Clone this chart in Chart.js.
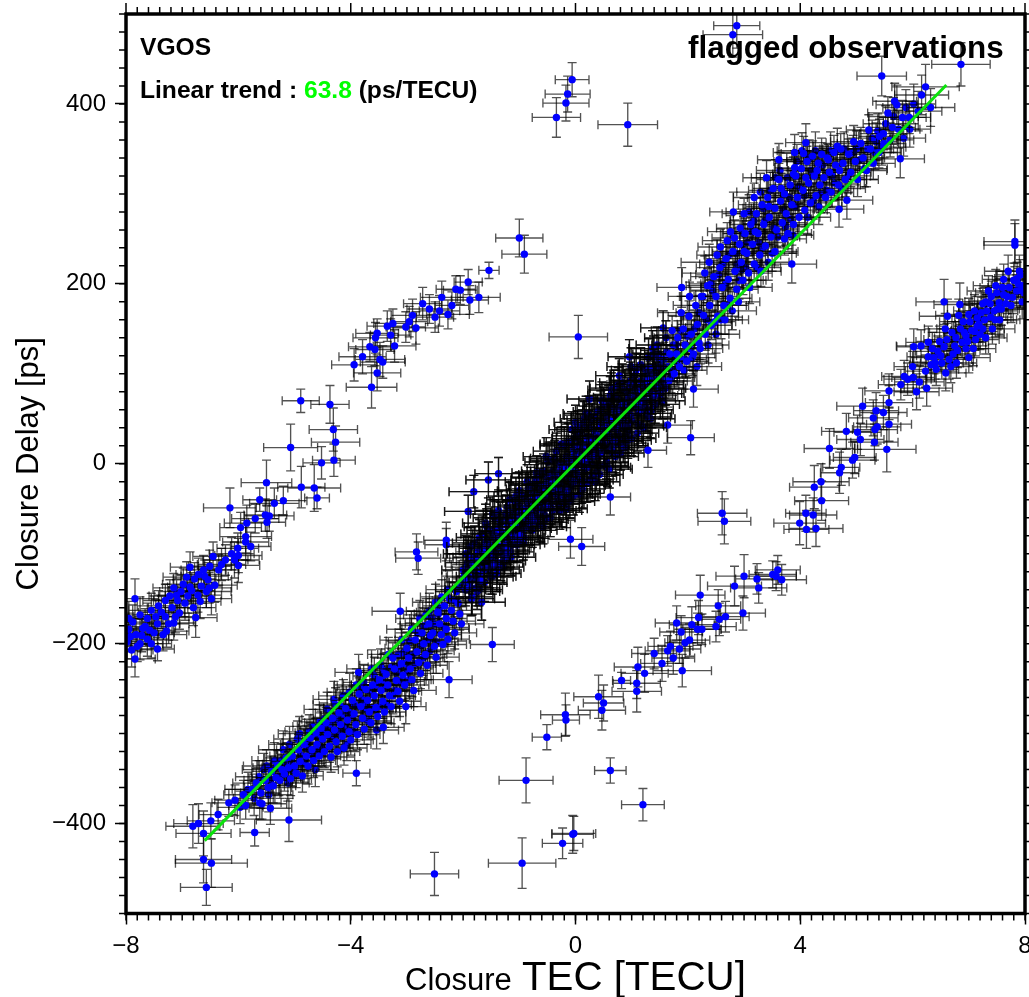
<!DOCTYPE html>
<html>
<head>
<meta charset="utf-8">
<title>Closure delay vs closure TEC</title>
<script src="https://cdn.jsdelivr.net/npm/chart.js@4"></script>
<style>
  html, body { margin: 0; padding: 0; background: #fff; overflow: hidden; }
  #wrap { width: 1029px; height: 997px; }
</style>
</head>
<body>
<div id="wrap"><canvas id="myChart" width="1029" height="997"></canvas></div>
<script>
// rows are [closure TEC, closure delay, TEC error, delay error]
var trendTec = [-6.6, 6.6];
var trendDelay = [-419, 421];
var xMajorTicks = [-8, -4, 0, 4, 8];
var yMajorTicks = [-400, -200, 0, 200, 400];

var strayPoints = [
  [2.87,487,.41,25],[2.80,477,.53,25],[5.45,431,.44,22],[6.86,444,.52,24],[-0.06,427,.3,19],[-0.14,411,.4,20],
  [-0.17,401,.41,20],[-0.34,385,.43,22],[0.93,377,.53,24],[0.05,141,.52,24],[2.05,29,.42,19],[1.29,15,.33,19],
  [0.62,-37,.36,20],[-0.09,-84,.4,21],[0.11,-92,.41,21],[2.61,-55,.44,24],[2.65,-64,.47,25],[-1.48,-201,.39,19],
  [-2.25,-240,.41,20],[-2.51,-456,.43,24],[-3.90,-344,.24,14],[-5.10,-396,.58,24],[-5.71,-410,.26,15],
  [-0.88,-352,.48,25],[0.62,-341,.28,14],[1.20,-379,.38,18],[-0.03,-411,.39,19],[-0.05,-412,.37,21],
  [-0.23,-422,.36,17],[-0.95,-444,.6,28],[-6.62,-440,.5,26],[-6.48,-444,.64,27],[-6.57,-471,.46,20],
  [-6.62,-411,.49,25],[-6.81,-403,.48,24],[-6.71,-400,.44,22],[-6.49,-397,.42,20],[-6.36,-390,.34,17],
  [-1.0,251,.42,21],[-0.91,233,.4,21]
];

var upperBranch = [
  [-1.54,215,.18,9],[-1.91,202,.25,14],[-2.13,194,.35,15],[-2.05,193,.3,16],[-2.38,185,.38,18],[-1.72,185,.38,17],
  [-1.88,182,.33,16],[-2.2,176,.3,15],[-2.42,170,.36,17],[-2.6,172,.4,16],[-2.5,163,.33,17],[-2.27,166,.38,16],
  [-2.72,178,.34,18],[-2.9,165,.38,18],[-2.84,151,.4,18],[-3.02,152,.35,17],[-2.96,158,.33,17],[-3.25,156,.34,16],
  [-3.35,153,.36,17],[-3.53,145,.38,16],[-3.29,143,.36,18],[-3.56,140,.4,17],[-3.66,130,.38,16],[-3.57,127,.34,18],
  [-3.22,131,.38,18],[-3.79,119,.42,19],[-3.48,116,.44,19],[-3.43,113,.4,18],[-3.94,110,.4,18],[-3.53,101,.42,20],
  [-3.63,85,.45,23],[-4.37,66,.34,21],[-4.89,70,.33,13],[-4.31,38,.43,24],[-4.27,24,.43,18],[-5.07,18,.48,26],
  [-4.30,4,.38,18],[-4.52,1,.33,18],[-5.50,-21,.45,25],[-4.88,-26,.42,23],[-4.65,-27,.47,26],[-4.60,-38,.22,12],
  [-5.62,-40,.3,13],[-5.36,-44,.44,17],[-5.20,-41,.42,16],[-6.15,-49,.47,22],[-5.52,-57,.38,18],[-5.45,-58,.44,17],
  [-5.70,-61,.42,16],[-5.85,-66,.4,20],[-5.49,-65,.33,18],[-5.96,-71,.37,17],[-5.87,-81,.46,18],[-5.87,-87,.41,20],
  [-5.78,-92,.36,16],[-6.01,-94,.37,17],[-6.12,-100,.4,18],[-6.00,-102,.42,19],[-6.07,-107,.44,20],[-6.23,-107,.4,17],
  [-6.00,-113,.38,19],[-6.45,-103,.36,16],[-6.51,-114,.38,18],[-6.86,-115,.35,17],[-6.71,-123,.4,18],[-6.54,-129,.42,19],
  [-6.86,-137,.4,19],[-6.98,-134,.37,18],[-6.57,-142,.44,18],[-7.10,-146,.4,17],[-7.84,-150,.42,22],[-7.22,-147,.37,18],
  [-6.35,-118,.36,17],[-6.62,-118,.4,16],[-6.78,-128,.38,18],[-6.42,-135,.4,19],[-6.92,-126,.42,17],[-7.02,-142,.38,18],
  [-6.72,-146,.42,19],[-6.48,-150,.36,18],[-7.15,-138,.37,16],[-7.3,-152,.4,18],[-6.95,-155,.38,19],[-7.18,-160,.42,18],
  [-7.42,-158,.38,17],[-6.8,-160,.4,20],[-7.05,-166,.36,18],[-7.55,-163,.4,19],[-7.3,-170,.42,18],[-6.76,-171,.38,22],
  [-7.62,-172,.36,17],[-7.44,-178,.4,18],[-7.15,-177,.38,19],[-7.75,-168,.4,20],[-7.7,-183,.42,18],[-7.5,-188,.36,17],
  [-7.28,-186,.4,18],[-7.88,-176,.38,19],[-7.82,-190,.4,18],[-7.62,-195,.38,19],[-7.95,-184,.4,18],[-7.44,-206,.3,13],
  [-7.90,-207,.38,19],[-7.84,-217,.36,20],[-7.75,-200,.4,18],[-7.98,-198,.42,19],[-7.55,-200,.36,16],[-7.92,-192,.38,17],
  [-7.37,-165,.41,18],[-6.66,-136,.37,19],[-7.08,-152,.43,17],[-7.66,-181,.38,20],[-6.9,-147,.4,19],[-7.24,-178,.36,18],
  [-6.6,-125,.42,18],[-7.47,-170,.39,19],[-7.8,-203,.37,17],[-6.83,-141,.41,20],[-7.12,-170,.38,18],[-7.58,-185,.4,17],
  [-6.3,-112,.43,18],[-7.95,-172,.36,19],[-6.52,-138,.4,17],[-7.34,-190,.42,18],[-6.68,-153,.37,19],[-7.72,-191,.39,18]
];

var rightBranch = [
  [7.82,247,.55,24],[7.82,243,.55,24],[7.70,214,.42,18],[7.86,206,.4,18],[7.62,205,.38,17],[7.92,193,.42,19],
  [6.56,180,.5,25],[6.84,177,.46,24],[6.62,164,.5,19],[7.54,179,.38,16],[7.39,163,.4,18],[7.30,180,.37,17],
  [7.15,153,.42,18],[6.02,130,.3,20],[6.15,131,.44,18],[6.28,135,.4,18],[6.56,130,.42,20],[6.77,140,.38,18],
  [6.28,119,.38,18],[6.65,116,.4,22],[6.00,108,.33,17],[6.33,110,.38,17],[6.42,105,.4,18],[6.23,103,.36,18],
  [6.59,101,.36,20],[5.85,97,.4,18],[5.91,94,.42,18],[6.01,96,.38,17],[6.12,91,.44,18],[5.79,88,.4,17],
  [6.25,84,.46,20],[6.07,80,.4,20],[5.58,81,.43,19],[5.58,68,.42,19],[5.11,64,.46,20],[5.35,59,.4,20],
  [5.48,57,.42,19],[5.30,51,.44,20],[5.58,44,.4,19],[5.37,41,.42,19],[5.33,38,.4,18],[4.82,36,.44,20],
  [5.02,35,.42,19],[5.07,27,.42,18],[5.32,24,.42,20],[5.54,16,.52,25],[4.52,17,.45,22],[4.97,7,.38,18],
  [4.93,4,.4,20],[4.73,-4,.33,20],[4.70,-10,.34,23],[4.37,-20,.5,20],[4.25,-26,.44,24],[4.38,-41,.48,22],
  [4.10,-55,.36,20],[4.23,-57,.42,19],[3.99,-66,.46,24],[4.11,-73,.4,21],[4.28,-72,.48,20],
  [6.7,146,.4,18],[6.85,150,.42,19],[6.95,142,.38,17],[7.02,158,.4,18],[7.1,170,.37,18],[6.88,135,.42,17],
  [6.72,122,.38,19],[6.95,128,.4,18],[7.12,138,.42,18],[7.25,150,.38,19],[7.22,168,.4,17],[7.38,178,.36,18],
  [7.45,170,.42,19],[7.5,190,.38,18],[7.62,188,.4,17],[7.72,196,.38,19],[7.78,185,.42,18],[7.66,178,.36,18],
  [7.85,192,.4,18],[7.92,210,.42,17],[7.95,180,.38,19],[6.45,125,.4,17],[6.38,118,.42,18],[6.52,112,.38,18],
  [6.78,112,.36,17],[6.8,126,.4,19],[6.48,136,.42,17],[7.0,118,.38,17],[7.08,128,.4,19],[7.3,140,.38,18],
  [7.42,150,.4,17],[7.55,160,.36,18],[7.15,162,.4,19],[7.35,192,.38,17],[7.58,172,.42,18],[7.96,198,.4,19],
  [7.0,166,.38,18],[6.9,158,.42,19],[7.25,178,.36,17],[7.48,198,.4,18],[7.8,204,.38,19],[7.98,190,.42,18],
  [6.61,138,.41,18],[6.92,146,.37,19],[7.2,144,.43,17],[6.35,128,.39,18],[7.47,160,.38,19],[6.75,131,.42,18],
  [7.05,148,.36,17],[7.68,186,.41,19],[7.32,170,.39,18],[6.5,120,.43,17],[6.98,136,.37,19],[7.6,196,.4,18],
  [7.88,200,.38,17],[7.18,155,.42,19],[6.68,108,.39,18],[7.4,186,.36,17],[6.82,165,.41,18],[7.75,176,.38,19],
  [6.4,112,.4,18],[7.1,147,.42,17],[7.52,172,.38,19],[7.28,160,.41,18],[6.58,150,.37,17],[7.9,214,.4,18]
];

var lowerBranch = [
  [3.60,-118,.4,16],[3.51,-123,.42,15],[3.57,-125,.36,16],[3.67,-129,.44,17],[3.00,-125,.5,24],[3.23,-128,.38,17],
  [2.83,-136,.48,22],[3.26,-138,.5,17],[2.22,-146,.44,22],[2.54,-158,.4,18],[2.98,-166,.4,19],[2.67,-170,.42,17],
  [2.56,-173,.38,18],[2.19,-171,.4,19],[1.80,-177,.38,19],[2.07,-179,.4,20],[2.50,-181,.36,17],[2.17,-184,.42,18],
  [2.25,-184,.34,17],[1.88,-187,.38,18],[2.03,-196,.36,18],[1.95,-199,.36,17],[1.69,-203,.4,17],[1.85,-206,.38,16],
  [1.64,-208,.4,17],[1.40,-211,.4,17],[1.74,-216,.38,18],[1.54,-222,.38,20],[1.11,-226,.42,22],[1.90,-230,.52,18],
  [1.23,-233,.42,21],[0.82,-241,.16,9],[1.09,-244,.42,17],[1.09,-253,.44,23],[0.41,-259,.44,24],[0.50,-266,.36,20],
  [0.47,-274,.42,22],[-0.18,-279,.44,24],[-0.17,-285,.24,17],[-0.51,-304,.26,14]
];

var mainLow = [
  [-6.17,-377,.3,15],[-6.06,-374,.36,17],[-5.91,-368,.35,16],[-5.87,-380,.3,15],[-5.75,-362,.36,17],[-5.62,-377,.38,18],
  [-5.58,-378,.44,17],[-5.43,-383,.38,18],[-5.68,-355,.42,16],[-5.6,-366,.36,17],[-5.52,-352,.38,18],[-5.47,-360,.42,20],
  [-5.41,-342,.35,17],[-5.38,-358,.4,19],[-5.33,-349,.44,18],[-5.3,-335,.37,16],[-5.26,-352,.41,20],[-5.22,-340,.36,17],
  [-5.18,-345,.4,19],[-5.15,-327,.38,16],[-5.11,-338,.43,18],[-5.07,-350,.37,19],[-5.04,-325,.4,17],[-5.0,-336,.42,18],
  [-4.97,-344,.36,16],[-4.93,-318,.39,17],[-4.9,-331,.41,19],[-4.86,-347,.37,18],[-4.83,-312,.42,17],[-4.79,-325,.38,16],
  [-4.76,-336,.4,20],[-4.72,-305,.36,17],[-4.69,-318,.43,18],[-4.66,-330,.39,19],[-4.62,-299,.37,16],[-4.6,-312,.41,18],
  [-4.56,-325,.38,17],[-4.53,-294,.4,19],[-4.5,-306,.36,16],[-4.47,-320,.42,18],[-4.44,-288,.38,17],[-4.41,-301,.4,19],
  [-4.38,-314,.36,18],[-4.35,-326,.42,17],[-4.32,-283,.39,16],[-4.29,-296,.41,18],[-4.26,-309,.37,19],[-4.24,-320,.4,17],
  [-4.21,-277,.42,17],[-4.18,-290,.38,18],[-4.15,-303,.36,16],[-4.12,-316,.41,19],[-4.09,-272,.39,17],[-4.06,-285,.43,18],
  [-4.03,-298,.37,18],[-4.0,-307,.4,17],[-3.97,-263,.38,16],[-3.94,-278,.42,18],[-3.91,-290,.36,19],[-3.88,-301,.4,17],
  [-3.85,-256,.41,18],[-3.82,-270,.38,16],[-3.79,-283,.4,18],[-3.76,-295,.36,17],[-3.73,-251,.42,19],[-3.7,-263,.39,17],
  [-3.67,-276,.37,16],[-3.64,-288,.41,18],[-3.61,-246,.38,17],[-3.58,-258,.42,19],[-3.55,-271,.36,18],[-3.52,-281,.4,16],
  [-3.49,-240,.39,17],[-3.46,-252,.37,18],[-3.42,-293,.37,18],[-3.43,-264,.41,19],[-3.4,-276,.38,17],[-3.37,-234,.4,16],
  [-3.34,-246,.42,18],[-3.31,-258,.36,17],[-3.28,-270,.4,19],[-3.25,-216,.38,17],[-3.22,-228,.41,16],[-3.19,-241,.37,18],
  [-3.16,-253,.42,19],[-3.13,-264,.38,17],[-3.12,-164,.5,20],[-3.1,-222,.36,16],[-3.07,-235,.4,18],[-3.04,-246,.43,17],
  [-3.02,-270,.36,19],[-3.0,-205,.39,18],[-2.97,-216,.37,17],[-2.94,-228,.41,16],[-2.91,-240,.38,19],[-2.88,-252,.4,18],
  [-2.83,-98,.38,20],[-2.8,-105,.4,18],[-2.85,-196,.36,17],[-2.82,-209,.42,18],[-2.79,-221,.38,16],[-2.76,-233,.4,17],
  [-2.73,-188,.37,19],[-2.7,-200,.41,17],[-2.67,-212,.38,18],[-2.64,-224,.36,16],[-2.61,-178,.42,17],[-2.58,-191,.39,18],
  [-2.54,-188,.4,19],[-2.51,-203,.37,17],[-2.48,-215,.41,18],[-2.45,-165,.38,16],[-2.42,-178,.4,18],[-2.39,-190,.36,17],
  [-2.36,-201,.42,19],[-2.33,-158,.39,18],[-2.3,-85,.4,20],[-2.3,-90,.38,18],[-2.3,-172,.37,17],[-2.3,-184,.41,17],
  [-2.27,-195,.38,16],[-2.24,-150,.42,18],[-2.21,-163,.36,17],[-2.18,-175,.4,19],[-2.15,-188,.39,18],[-2.12,-142,.37,16],
  [-2.09,-155,.41,17],[-2.06,-167,.38,18],[-2.03,-178,.4,19]
];

var mainLowExtra = [
  [-5.83,-362,.41,19],[-5.2,-318,.44,21],[-4.48,-284,.39,18],[-3.86,-232,.42,20],[-3.33,-212,.37,19],[-2.77,-172,.43,20],
  [-5.55,-340,.38,18],[-4.95,-306,.42,20],[-4.27,-268,.4,19],[-3.63,-228,.44,21],[-3.09,-196,.39,18],[-2.49,-154,.41,20],
  [-5.72,-372,.37,19],[-4.88,-324,.43,18],[-4.33,-304,.38,21],[-3.72,-273,.41,19],[-3.18,-232,.39,20],[-2.62,-196,.42,18],
  [-5.36,-330,.4,20],[-4.67,-292,.36,19],[-4.13,-258,.44,18],[-3.58,-236,.38,21],[-2.99,-230,.41,19],[-2.44,-167,.43,20],
  [-5.63,-348,.42,18],[-5.09,-312,.37,20],[-4.42,-273,.41,19],[-3.9,-246,.39,18],[-3.36,-268,.44,20],[-2.71,-216,.38,19],
  [-5.28,-348,.39,21],[-4.74,-298,.43,19],[-4.19,-269,.37,18],[-3.66,-252,.42,20],[-3.03,-222,.4,21],[-2.56,-172,.39,18],
  [-5.97,-382,.41,18],[-5.12,-355,.38,20],[-4.58,-318,.42,19],[-4.02,-254,.4,21],[-3.47,-224,.37,18],[-2.92,-184,.44,20],
  [-5.46,-368,.43,19],[-4.83,-333,.39,21],[-4.25,-285,.41,18],[-3.77,-243,.38,20],[-3.21,-252,.42,19],[-2.66,-168,.4,18],
  [-5.06,-330,.37,20],[-4.63,-340,.41,19],[-4.07,-312,.43,18],[-3.54,-296,.39,21],[-3.11,-242,.42,20],[-2.38,-148,.38,19],
  [-5.24,-330,.41,19],[-4.52,-316,.38,20],[-3.99,-281,.42,18],[-3.44,-241,.4,19],[-2.86,-222,.37,21],[-2.33,-182,.43,19],
  [-5.42,-351,.39,18],[-4.77,-316,.44,20],[-4.16,-280,.37,19],[-3.69,-286,.41,18],[-3.25,-258,.4,20],[-2.74,-202,.42,21],
  [-4.91,-300,.38,19],[-4.36,-290,.42,18],[-3.8,-262,.4,20],[-3.15,-212,.37,19],[-2.59,-208,.43,18],[-2.16,-152,.39,20],
  [-5.14,-334,.43,18],[-4.55,-287,.37,19],[-3.96,-298,.41,21],[-3.39,-250,.39,18],[-2.95,-197,.42,20],[-2.47,-198,.38,19],
  [-5.34,-338,.4,20],[-4.71,-324,.41,18],[-4.1,-293,.38,19],[-3.56,-246,.43,21],[-3.06,-210,.39,18],[-2.6,-164,.41,20],
  [-4.8,-310,.42,19],[-4.22,-298,.39,20],[-3.74,-268,.37,18],[-3.27,-226,.42,20],[-2.81,-188,.4,19],[-2.28,-140,.38,21],
  [-5.04,-340,.39,19],[-4.46,-296,.43,18],[-3.93,-268,.41,20],[-3.5,-270,.37,19],[-2.89,-212,.42,18],[-2.52,-178,.4,20],
  [-5.5,-336,.41,18],[-4.6,-302,.38,20],[-4.04,-276,.42,19],[-3.6,-272,.4,21],[-3.14,-226,.39,18],[-2.69,-180,.43,19],
  [-4.3,-262,.37,20],[-3.83,-248,.41,18],[-3.41,-230,.42,19],[-2.96,-240,.39,21],[-2.42,-160,.38,18],[-2.07,-136,.42,20]
];

var mainMidA = [
  [-2.0,-118,.38,17],[-1.96,-140,.36,18],[-1.91,-53,.42,18],[-1.92,-110,.4,16],[-1.88,-132,.37,17],[-1.85,-150,.41,19],
  [-1.81,-31,.44,18],[-1.8,-104,.38,17],[-1.76,-125,.36,16],[-1.72,-140,.42,18],[-1.68,-94,.39,17],[-1.67,-154,.42,20],
  [-1.63,-118,.37,18],[-1.58,-85,.41,17],[-1.55,-18,.4,20],[-1.55,-108,.38,16],[-1.51,-126,.4,19],[-1.47,-78,.36,17],
  [-1.43,-100,.42,18],[-1.39,-117,.39,17],[-1.37,-11,.42,18],[-1.35,-70,.37,16],[-1.31,-92,.41,18],[-1.27,-108,.38,17],
  [-1.23,-60,.4,19],[-1.2,-84,.36,18],[-1.16,-98,.42,17],[-1.12,-54,.39,16],[-1.08,-74,.37,18],[-1.04,-90,.41,19],
  [-1.0,-46,.38,17],[-.96,-66,.4,16],[-.92,-82,.36,18],[-.88,-40,.42,17],[-.84,-58,.39,19],[-.8,-72,.37,18],
  [-.76,-32,.41,17],[-.72,-50,.38,16],[-.68,-64,.4,18],[-.64,-24,.36,19],[-.6,-42,.42,17],[-.56,-56,.39,18],
  [-.52,-15,.37,16],[-.48,-34,.41,17],[-.44,-48,.38,19],[-.4,-8,.4,18],[-.36,-26,.36,17],[-.32,-40,.42,16],
  [-.28,0,.39,18],[-.24,-18,.37,17],[-.2,-32,.41,19],[-.16,8,.38,18],[-.12,-10,.4,16],[-.08,-25,.36,17],
  [-.04,16,.42,19],[0,-2,.39,18],[0,46,.38,19],[.04,-16,.37,17],[.08,22,.41,16],[.12,6,.38,18],
  [.16,-8,.4,17],[.2,30,.36,19],[.24,14,.42,18],[.25,72,.4,20],[.28,0,.39,16],[.32,38,.37,17],
  [.36,22,.41,18],[.4,8,.38,19],[.44,46,.4,17],[.48,30,.36,16],[.52,15,.42,18],[.56,54,.39,17],
  [.6,38,.37,19],[.64,24,.41,18],[.68,62,.38,16],[.72,46,.4,17],[.76,32,.36,18],[.78,98,.42,19],
  [.8,70,.42,19],[.84,54,.39,17],[.88,40,.37,16],[.92,78,.41,18],[.96,119,.38,19],[.96,62,.38,17],
  [1.0,48,.4,19],[1.04,86,.36,18],[1.08,70,.42,16],[1.12,56,.39,17],[1.16,92,.37,18],[1.2,78,.41,19],
  [1.24,64,.38,17],[1.28,100,.4,16],[1.29,52,.4,18],[1.32,84,.36,18],[1.36,72,.42,17],[1.4,108,.39,19],
  [1.44,92,.37,18],[1.48,78,.41,16],[1.52,116,.38,17],[1.56,151,.4,19],[1.56,100,.4,18],[1.6,84,.36,19]
];

var mainMidB = [
  [-1.98,-125,.4,18],[-1.94,-115,.37,16],[-1.9,-137,.42,17],[-1.86,-105,.38,19],[-1.83,-128,.36,17],[-1.78,-118,.41,18],
  [-1.74,-98,.39,16],[-1.7,-122,.37,18],[-1.65,-112,.42,17],[-1.61,-89,.38,19],[-1.56,-115,.4,18],[-1.53,-96,.36,16],
  [-1.49,-104,.41,17],[-1.45,-82,.39,18],[-1.41,-110,.37,19],[-1.37,-92,.42,17],[-1.33,-75,.38,16],[-1.29,-100,.4,18],
  [-1.25,-84,.36,17],[-1.21,-68,.41,19],[-1.18,-92,.39,18],[-1.14,-76,.37,16],[-1.1,-62,.42,17],[-1.06,-82,.38,18],
  [-1.02,-68,.4,19],[-.98,-54,.36,17],[-.94,-74,.41,16],[-.9,-60,.39,18],[-.86,-47,.37,17],[-.82,-66,.42,19],
  [-.78,-52,.38,18],[-.74,-38,.4,16],[-.7,-58,.36,17],[-.66,-44,.41,18],[-.62,-30,.39,19],[-.58,-50,.37,17],
  [-.54,-36,.42,16],[-.5,-22,.38,18],[-.46,-42,.4,17],[-.42,-28,.36,19],[-.38,-14,.41,18],[-.34,-34,.39,16],
  [-.3,-20,.37,17],[-.26,-6,.42,18],[-.22,-26,.38,19],[-.18,-12,.4,17],[-.14,2,.36,16],[-.1,-18,.41,18],
  [-.06,-4,.39,17],[-.02,10,.37,19],[.02,-10,.42,18],[.06,4,.38,16],[.1,18,.4,17],[.14,-2,.36,18],
  [.18,12,.41,19],[.22,26,.39,17],[.26,6,.37,16],[.3,20,.42,18],[.34,34,.38,17],[.38,14,.4,19],
  [.42,28,.36,18],[.46,42,.41,16],[.5,22,.39,17],[.54,36,.37,18],[.58,50,.42,19],[.62,30,.38,17],
  [.66,44,.4,16],[.7,58,.36,18],[.74,38,.41,17],[.78,52,.39,19],[.82,64,.37,18],[.86,46,.42,16],
  [.9,60,.38,17],[.94,72,.4,18],[.98,54,.36,19],[1.02,68,.41,17],[1.06,80,.39,16],[1.1,62,.37,18],
  [1.14,76,.42,17],[1.18,88,.38,19],[1.22,70,.4,18],[1.26,84,.36,16],[1.3,94,.41,17],[1.34,78,.39,18],
  [1.38,92,.37,19],[1.42,100,.42,17],[1.46,86,.38,16],[1.5,100,.4,18],[1.54,108,.36,17],[1.58,92,.41,19],
  [1.64,43,.44,20],[1.62,124,.39,18],[1.65,108,.37,16],[1.7,96,.42,17],[1.74,132,.38,18],[1.78,114,.4,19]
];

var mainMidC = [
  [-1.97,-131,.36,17],[-1.89,-126,.41,18],[-1.82,-112,.39,16],[-1.75,-108,.37,18],[-1.69,-130,.42,17],[-1.62,-100,.38,19],
  [-1.54,-90,.4,18],[-1.46,-112,.36,16],[-1.38,-84,.41,17],[-1.3,-76,.39,18],[-1.22,-100,.37,19],[-1.15,-66,.42,17],
  [-1.07,-58,.38,16],[-.99,-80,.4,18],[-.91,-50,.36,17],[-.83,-42,.41,19],[-.75,-64,.39,18],[-.67,-36,.37,16],
  [-.59,-26,.42,17],[-.51,-48,.38,18],[-.43,-20,.4,19],[-.35,-12,.36,17],[-.27,-34,.41,16],[-.19,-4,.39,18],
  [-.11,4,.37,17],[-.03,-20,.42,19],[.05,10,.38,18],[.13,20,.4,16],[.21,-4,.36,17],[.29,28,.41,18],
  [.37,32,.39,19],[.45,12,.37,17],[.53,44,.42,16],[.61,48,.38,18],[.69,26,.4,17],[.77,60,.36,19],
  [.85,66,.41,18],[.93,44,.39,16],[1.01,76,.37,17],[1.09,82,.42,18],[1.17,60,.38,19],[1.25,92,.4,17],
  [1.33,98,.36,16],[1.41,76,.41,18],[1.49,108,.39,17],[1.57,116,.37,19],[1.66,92,.42,18],[1.72,104,.38,16],
  [-1.6,-93,.4,18],[-1.42,-75,.36,17],[-1.26,-92,.41,19],[-1.11,-82,.39,18],[-.95,-60,.37,16],[-.79,-58,.42,17],
  [-.63,-50,.38,18],[-.47,-14,.4,19],[-.31,-28,.36,17],[-.15,-30,.41,16],[.01,18,.39,18],[.17,2,.37,17],
  [.33,8,.42,19],[.49,38,.38,18],[.65,18,.4,16],[.81,42,.36,17],[.97,88,.41,18],[1.13,68,.39,19],
  [1.31,106,.37,17],[1.47,118,.42,16]
];

var mainMidExtra = [
  [-.73,-22,.42,21],[.41,-3,.4,20],[1.12,44,.44,19],[-1.34,-64,.39,21],[.87,82,.43,20],[-.19,-38,.41,19],[.66,12,.38,21],
  [-1.77,-138,.42,20],[.03,31,.44,19],[1.48,122,.4,21],[-.95,-35,.37,20],[.28,48,.43,19],[-1.52,-74,.41,21],[.74,72,.39,20],
  [-.41,-52,.42,19],[1.23,105,.38,21],[-1.15,-104,.44,20],[.15,-20,.4,19],[-1.86,-92,.43,21],[.95,36,.41,20],
  [-.57,-8,.39,19],[.52,-2,.42,21],[1.36,60,.38,20],[-1.08,-42,.44,19],[.33,52,.41,21],[-.3,-45,.37,20],[1.05,98,.43,19],
  [-1.62,-132,.4,21],[.11,-24,.42,20],[-.84,-28,.39,19],[.59,66,.44,21],[-1.44,-60,.38,20],[.79,26,.41,19],[-.13,24,.43,21],
  [1.55,70,.4,20],[-1.29,-115,.37,19],[.45,60,.42,21],[-.66,-66,.41,20],[1.18,42,.39,19],[-.04,-36,.44,21],
  [-1.95,-100,.4,20],[.23,40,.38,19],[.9,30,.43,21],[-.49,2,.41,20],[-1.21,-48,.39,19],[1.3,118,.42,21],[.07,-34,.37,20],
  [-.77,-74,.44,19],[.62,76,.4,21],[-1.71,-82,.41,20],[-.25,22,.38,19],[1.42,66,.43,21],[.37,-10,.42,20],[-1.03,-84,.39,19],
  [.71,8,.41,21],[-.61,-12,.4,20],[1.08,104,.44,19],[-.16,-50,.37,21],[-1.48,-125,.42,20],[.19,56,.41,19],
  [.98,92,.38,21],[-.88,-70,.43,20],[.55,2,.39,19],[-1.37,-52,.42,21],[-.07,38,.4,20],[1.27,56,.44,19],[-.54,-62,.41,21],
  [-1.84,-148,.37,20],[.3,-14,.43,19],[.83,90,.4,21],[-.34,14,.41,20],[-1.12,-90,.39,19],[1.5,88,.42,21],[.13,44,.38,20],
  [-.7,-16,.44,19],[.47,70,.41,21],[-1.58,-70,.4,20],[1.0,28,.43,19],[-.22,-44,.37,21],[.68,84,.42,20],
  [-1.0,-30,.39,21],[.26,-18,.41,20],[1.16,110,.4,19],[-.45,-60,.44,21],[-1.66,-78,.38,20],[.09,36,.42,19],[.88,18,.41,21],
  [-.8,-24,.39,20],[.39,58,.43,19],[-1.24,-56,.4,21],[1.39,122,.37,20],[-.1,-42,.44,19],[.57,-4,.41,21],[-1.53,-118,.42,20],
  [1.61,140,.38,19],[.72,22,.4,21],[-.37,6,.43,20],[-1.8,-88,.39,19],[.2,-22,.41,21],[.93,26,.42,20],
  [-.62,-68,.38,19],[1.33,50,.44,21],[-.02,28,.4,20],[-1.17,-40,.41,19],[.5,64,.37,21],[-1.4,-122,.43,20],[.8,12,.42,19],
  [-.28,-52,.39,21],[1.21,40,.41,20],[-.93,-88,.38,19],[.35,-20,.44,21],[-1.75,-142,.4,20],[.64,82,.42,19],[-.52,8,.41,21],
  [1.45,132,.37,20],[.16,50,.43,19],[-1.06,-36,.39,21],[-.12,-34,.42,20],[.76,88,.4,19],[-1.6,-66,.41,21],
  [1.1,34,.38,20],[-.69,-10,.44,19],[.43,-12,.42,21],[-1.33,-110,.39,20],[.04,40,.41,19],[.99,108,.43,21],[-.42,4,.4,20],
  [-1.91,-100,.37,19],[.6,-6,.41,21],[1.37,128,.42,20],[-.86,-20,.39,19],[.24,54,.44,21],[-1.2,-96,.38,20],[.85,20,.4,19],
  [-.2,20,.43,21],[1.52,78,.41,20],[-.58,-70,.42,19],[.12,-28,.39,21],[-1.47,-56,.4,20],[.69,74,.37,19]
];

var mainHigh = [
  [1.68,122,.4,18],[1.76,100,.37,17],[1.82,140,.42,19],[1.8,122,.38,16],[1.85,108,.4,18],[1.89,196,.44,22],
  [1.92,150,.36,17],[1.95,132,.41,18],[1.98,114,.39,19],[2.02,164,.37,17],[2.06,144,.42,16],[2.1,83,.44,20],
  [2.1,122,.38,18],[2.14,176,.4,17],[2.17,155,.36,19],[2.2,134,.41,18],[2.24,186,.39,16],[2.28,165,.37,17],
  [2.31,144,.42,18],[2.35,198,.38,19],[2.38,224,.5,20],[2.39,176,.4,17],[2.42,154,.36,16],[2.46,208,.41,18],
  [2.5,186,.39,17],[2.53,164,.37,19],[2.58,241,.4,20],[2.57,218,.42,18],[2.61,196,.38,16],[2.64,176,.4,17],
  [2.7,248,.44,20],[2.68,228,.36,18],[2.72,205,.41,19],[2.75,184,.39,17],[2.81,280,.42,22],[2.83,251,.4,20],
  [2.8,236,.37,16],[2.84,214,.42,18],[2.87,194,.38,17],[2.93,262,.42,21],[2.92,244,.4,19],[2.95,224,.36,18],
  [2.98,204,.41,16],[3.02,256,.39,17],[3.05,234,.37,18],[3.08,212,.42,19],[3.12,266,.38,17],[3.15,244,.4,16],
  [3.18,222,.36,18],[3.22,278,.41,17],[3.25,256,.39,19],[3.28,232,.37,18],[3.32,288,.42,16],[3.35,266,.38,17],
  [3.38,242,.4,18],[3.42,296,.36,19],[3.45,274,.41,17],[3.48,252,.39,16],[3.52,306,.37,18],[3.55,284,.42,17],
  [3.58,260,.38,19],[3.62,316,.4,18],[3.65,292,.36,16],[3.68,268,.41,17],[3.72,300,.39,18],[3.75,278,.37,19],
  [3.78,256,.42,17],[3.85,222,.44,21],[3.82,310,.38,16],[3.85,288,.4,18],[3.88,266,.36,17],[3.90,346,.38,20],
  [3.90,329,.36,19],[3.92,320,.41,19],[3.95,296,.39,18],[3.98,274,.37,16],[4.02,328,.42,17],[4.06,345,.4,19],
  [4.05,304,.38,18],[4.08,282,.4,19],[4.10,357,.36,21],[4.12,336,.36,17],[4.15,312,.41,16],[4.18,290,.39,18],
  [4.22,342,.37,17],[4.25,320,.42,19],[4.28,298,.38,18],[4.32,334,.4,16],[4.35,310,.36,17],[4.38,344,.41,18],
  [4.42,318,.39,19],[4.45,296,.37,17],[4.48,340,.42,16],[4.52,324,.38,18],[4.55,302,.4,17],[4.6,346,.36,19],
  [4.66,353,.42,20],[4.63,332,.41,18],[4.69,283,.44,20],[4.68,310,.39,16],[4.72,350,.37,17],[4.76,334,.42,18],
  [4.83,293,.46,21],[4.8,316,.38,19],[4.86,344,.4,17],[4.9,324,.36,16],[4.95,358,.41,18],[4.98,336,.39,17],
  [5.02,316,.37,19],[5.08,356,.42,18],[5.12,340,.38,16],[5.22,371,.4,17],[5.18,326,.36,18],[5.25,350,.41,17],
  [5.3,334,.39,18],[5.41,364,.37,19],[5.48,367,.42,18],[5.49,356,.38,16],[5.4,346,.4,17],[5.56,390,.36,18],
  [5.64,374,.41,19],[5.78,339,.43,21],[5.68,403,.39,20],[5.72,399,.37,22],[5.82,385,.42,19],[5.94,385,.38,18],
  [6.16,410,.48,22],[6.23,419,.6,25],[6.32,396,.43,21],[2.22,128,.4,17],[2.48,158,.37,18],[2.66,160,.42,16],
  [2.9,180,.38,17],[3.1,196,.4,18],[3.3,214,.36,17],[3.55,236,.41,16],[3.72,250,.39,18],[1.72,148,.37,17],
  [1.88,168,.42,18],[2.03,186,.38,16],[2.3,212,.4,19],[2.52,232,.36,17],[2.76,258,.41,18],[3.0,278,.39,17],
  [3.18,296,.37,16],[3.4,318,.42,19],[3.62,338,.38,18],[3.0,236,.4,17],[3.2,258,.36,18],[3.44,286,.41,16],
  [3.66,306,.39,17],[3.88,322,.37,19],[4.1,318,.42,18],[4.3,326,.38,16],[4.5,338,.4,17],[4.7,326,.36,18]
];

var mainHighExtra = [
  [2.08,118,.42,20],[3.37,270,.41,21],[4.57,320,.39,19],[1.79,132,.43,20],[2.96,216,.38,21],[3.97,308,.42,19],[5.06,338,.41,20],
  [2.27,186,.4,21],[3.14,258,.37,19],[4.23,292,.44,20],[1.93,104,.41,21],[3.6,252,.39,19],[4.74,306,.42,20],[2.59,160,.38,21],
  [3.26,246,.43,20],[4.4,332,.4,19],[2.12,150,.41,21],[3.83,272,.37,20],[5.2,350,.42,19],[2.73,232,.44,21],
  [3.47,304,.39,20],[4.13,274,.41,19],[1.83,116,.38,21],[2.88,222,.42,20],[4.85,320,.4,19],[3.7,282,.43,21],[2.36,132,.37,20],
  [3.09,280,.41,19],[4.27,348,.39,21],[2.67,200,.44,20],[3.53,262,.42,19],[5.35,358,.38,21],[1.99,142,.4,20],[3.94,336,.41,19],
  [2.79,170,.43,21],[3.33,240,.37,20],[4.61,312,.42,19],[2.44,192,.39,21],[3.77,318,.41,20],[4.94,346,.38,19],
  [2.16,108,.44,21],[3.03,218,.4,20],[4.07,298,.42,19],[2.55,210,.41,21],[3.43,224,.37,20],[4.47,304,.43,19],[1.87,148,.39,21],
  [3.64,326,.42,20],[2.99,256,.38,19],[4.19,326,.4,21],[5.14,328,.41,20],[2.33,160,.44,19],[3.23,218,.42,21],[3.87,254,.37,20],
  [2.62,222,.41,19],[4.36,300,.39,21],[3.56,318,.43,20],[4.78,350,.38,19],[2.04,128,.4,21],[3.17,270,.42,20],
  [2.85,234,.41,19],[3.74,264,.37,21],[4.03,348,.44,20],[2.41,200,.39,19],[3.29,302,.42,21],[5.0,350,.4,20],[1.95,116,.38,19],
  [4.54,348,.41,21],[3.5,234,.43,20],[2.71,176,.37,19],[3.91,286,.42,21],[4.16,340,.4,20],[2.2,168,.41,19],[3.06,246,.39,21],
  [5.28,362,.44,20],[3.81,296,.38,19],[2.5,144,.42,21],[4.33,286,.41,20],[3.35,284,.37,19],[2.91,204,.43,21],
  [5.52,378,.4,20],[5.6,360,.42,19],[5.75,372,.38,21],[5.88,396,.41,20],[6.02,400,.39,22],[5.45,352,.43,20],[5.33,346,.4,19],
  [5.66,386,.44,21],[5.95,372,.37,20],[6.1,392,.42,22],[5.38,370,.41,19],[5.84,362,.39,20]
];

var layers = [mainLowExtra, mainLow, mainMidExtra, mainMidA, mainMidB, mainMidC, mainHighExtra, mainHigh, upperBranch, rightBranch, lowerBranch, strayPoints];

function errorBars(ctx, chart, rows) {
  var xs = chart.scales.x, ys = chart.scales.y, a = chart.chartArea;
  ctx.save();
  ctx.beginPath();
  ctx.rect(a.left, a.top, a.right - a.left, a.bottom - a.top);
  ctx.clip();
  ctx.strokeStyle = 'rgba(0,0,0,0.68)';
  ctx.lineWidth = 1.35;
  rows.forEach(function (r) {
    var x = xs.getPixelForValue(r[0]), y = ys.getPixelForValue(r[1]);
    var x0 = xs.getPixelForValue(r[0] - r[2]), x1 = xs.getPixelForValue(r[0] + r[2]);
    var y0 = ys.getPixelForValue(r[1] - r[3]), y1 = ys.getPixelForValue(r[1] + r[3]);
    ctx.beginPath();
    ctx.moveTo(x0, y); ctx.lineTo(x1, y);
    ctx.moveTo(x0, y - 4.5); ctx.lineTo(x0, y + 4.5);
    ctx.moveTo(x1, y - 4.5); ctx.lineTo(x1, y + 4.5);
    ctx.moveTo(x, y0); ctx.lineTo(x, y1);
    ctx.moveTo(x - 4.5, y0); ctx.lineTo(x + 4.5, y0);
    ctx.moveTo(x - 4.5, y1); ctx.lineTo(x + 4.5, y1);
    ctx.stroke();
  });
  ctx.restore();
}

// each layer draws its bars first, so later layers cover earlier dots like the original plot
var errorBarPlugin = {
  id: 'errorBars',
  beforeDatasetDraw: function (chart, args) {
    var rows = chart.data.datasets[args.index].rows;
    if (rows) errorBars(chart.ctx, chart, rows);
  },
  // the middle of the band is nearly solid black, so its bars go over the last dots again
  afterDatasetDraw: function (chart, args) {
    if (chart.data.datasets[args.index].rows === mainMidC) {
      errorBars(chart.ctx, chart, mainMidExtra);
      errorBars(chart.ctx, chart, mainMidA);
    }
  }
};

var framePlugin = {
  id: 'frame',
  afterDatasetsDraw: function (chart) {
    var ctx = chart.ctx, a = chart.chartArea, xs = chart.scales.x, ys = chart.scales.y;
    ctx.save();
    ctx.strokeStyle = '#000';
    ctx.lineWidth = 1.5;
    ctx.beginPath();
    for (var v = -8; v <= 8.001; v += 0.2) {
      var px = xs.getPixelForValue(v);
      ctx.moveTo(px, a.bottom); ctx.lineTo(px, a.bottom + 7);
      ctx.moveTo(px, a.top); ctx.lineTo(px, a.top - 7);
    }
    for (var w = -500; w <= 500; w += 20) {
      var py = ys.getPixelForValue(w);
      ctx.moveTo(a.left, py); ctx.lineTo(a.left - 7, py);
      ctx.moveTo(a.right, py); ctx.lineTo(a.right + 7, py);
    }
    xMajorTicks.forEach(function (t) {
      ctx.moveTo(xs.getPixelForValue(t), a.top); ctx.lineTo(xs.getPixelForValue(t), a.top - 11);
    });
    ctx.stroke();
    ctx.lineWidth = 3.5;
    ctx.strokeRect(a.left, a.top, a.right - a.left, a.bottom - a.top);

    ctx.fillStyle = '#000';
    ctx.textBaseline = 'alphabetic';
    ctx.textAlign = 'left';
    ctx.font = 'bold 24.6px "Liberation Sans"';
    ctx.fillText('VGOS', 140, 55);
    var tx = 140;
    ctx.fillText('Linear trend : ', tx, 98);
    tx += ctx.measureText('Linear trend : ').width;
    ctx.fillStyle = '#00ff00';
    ctx.fillText('63.8', tx, 98);
    tx += ctx.measureText('63.8 ').width;
    ctx.fillStyle = '#000';
    ctx.fillText('(ps/TECU)', tx, 98);
    ctx.font = 'bold 31.4px "Liberation Sans"';
    ctx.fillText('flagged observations', 688, 58);
    ctx.font = '31px "Liberation Sans"';
    ctx.fillText('Closure', 405, 990);
    ctx.font = '40.3px "Liberation Sans"';
    ctx.fillText('TEC [TECU]', 522, 990);
    ctx.restore();
  }
};

var datasets = [{
  type: 'line',
  data: trendTec.map(function (t, i) { return { x: t, y: trendDelay[i] }; }),
  borderColor: '#0be30b',
  borderWidth: 3,
  pointRadius: 0,
  order: 0
}];
layers.forEach(function (rows, i) {
  datasets.push({
    type: 'scatter',
    rows: rows,
    data: rows.map(function (r) { return { x: r[0], y: r[1] }; }),
    pointRadius: 3.7,
    pointBackgroundColor: '#0000ff',
    pointBorderWidth: 0,
    order: layers.length - i
  });
});

var ctx = document.getElementById('myChart').getContext('2d');
var myChart = new Chart(ctx, {
  data: { datasets: datasets },
  plugins: [errorBarPlugin, framePlugin],
  options: {
    responsive: false,
    animation: false,
    layout: { padding: { top: 14, right: 3, left: 0, bottom: 0 } },
    plugins: { legend: { display: false }, tooltip: { enabled: false } },
    scales: {
      x: {
        type: 'linear', min: -8, max: 8,
        afterBuildTicks: function (s) { s.ticks = xMajorTicks.map(function (v) { return { value: v }; }); },
        afterFit: function (s) { s.height = 83.5; s.paddingLeft = 0; s.paddingRight = 0; },
        grid: { drawOnChartArea: false, tickLength: 11, tickWidth: 1.5, tickColor: '#000' },
        border: { display: false },
        ticks: {
          autoSkip: false, maxRotation: 0, padding: 7, color: '#000',
          font: { family: 'Liberation Sans', size: 24 },
          callback: function (v) { return String(v).replace('-', '\u2212'); }
        }
      },
      y: {
        type: 'linear', min: -500, max: 500,
        afterBuildTicks: function (s) { s.ticks = yMajorTicks.map(function (v) { return { value: v }; }); },
        afterFit: function (s) { s.width = 126; s.paddingTop = 0; s.paddingBottom = 0; },
        grid: { drawOnChartArea: false, tickLength: 11, tickWidth: 1.5, tickColor: '#000' },
        border: { display: false },
        title: {
          display: true, text: 'Closure Delay [ps]', color: '#000',
          font: { family: 'Liberation Sans', size: 31 }, padding: { top: 11, bottom: 0 }
        },
        ticks: {
          autoSkip: false, padding: 9, color: '#000',
          font: { family: 'Liberation Sans', size: 24 },
          callback: function (v) { return String(v).replace('-', '\u2212'); }
        }
      }
    }
  }
});
</script>
</body>
</html>
